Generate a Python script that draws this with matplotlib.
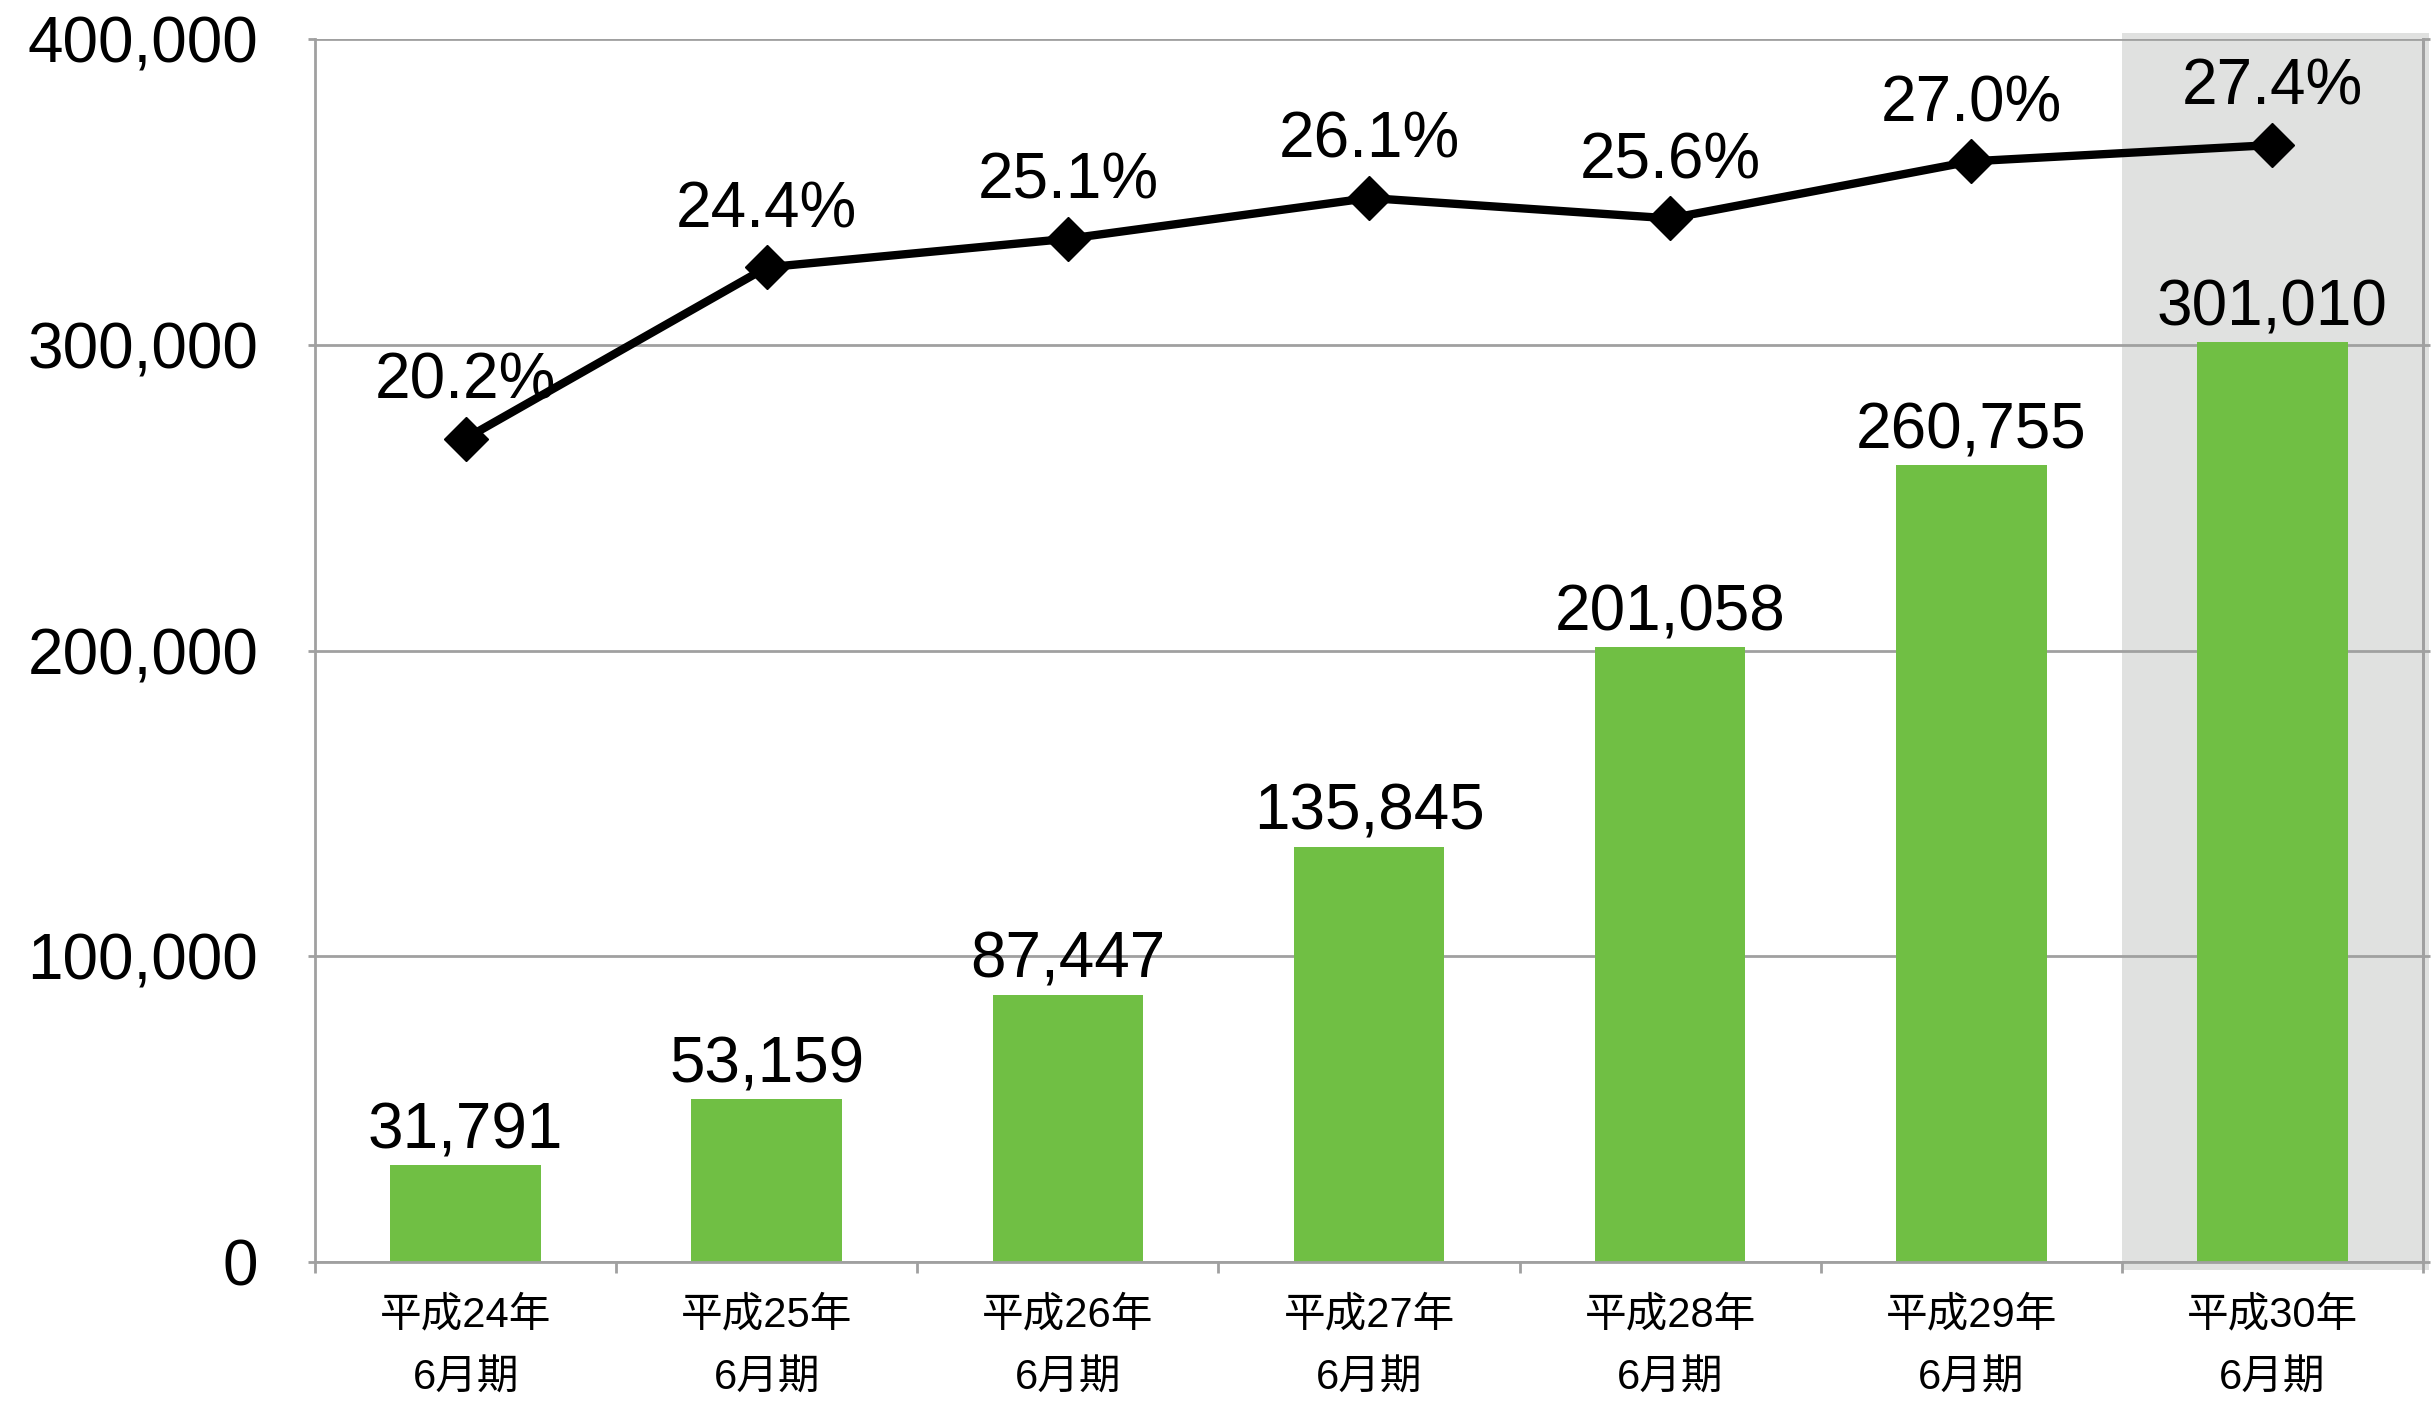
import matplotlib.pyplot as plt
from matplotlib.patches import Rectangle
from matplotlib.ticker import FuncFormatter

# data
periods = ['平成24年\n6月期', '平成25年\n6月期', '平成26年\n6月期', '平成27年\n6月期',
           '平成28年\n6月期', '平成29年\n6月期', '平成30年\n6月期']
sales = [31791, 53159, 87447, 135845, 201058, 260755, 301010]
ratio = [20.2, 24.4, 25.1, 26.1, 25.6, 27.0, 27.4]

plt.rcParams['font.family'] = ['Liberation Sans', 'Noto Sans CJK JP', 'DejaVu Sans']

grey = '#A0A0A0'
green = '#70BF44'

fig = plt.figure(figsize=(24.33, 14.14), dpi=100)
ax = fig.add_axes([0.1295, 0.1075, 0.8664, 0.8649])

x = list(range(len(sales)))
ax.bar(x, sales, width=0.5, color=green, zorder=2)
ax.set_xlim(-0.5, 6.5)
ax.set_ylim(0, 400000)

# highlight for the latest period
ax.add_patch(Rectangle((5.5, -2500), 1.02, 404500, facecolor='#E0E1E0',
                       edgecolor='none', zorder=0.2, clip_on=False))

ax.set_axisbelow(True)
ax.yaxis.grid(True, color=grey, linewidth=2)
ax.spines['top'].set_visible(False)
for s in ['left', 'bottom', 'right']:
    ax.spines[s].set_color(grey)
    ax.spines[s].set_linewidth(2)

ax.set_yticks([0, 100000, 200000, 300000, 400000])
ax.yaxis.set_major_formatter(FuncFormatter(lambda v, p: f'{int(v):,}'))
ax.tick_params(axis='y', labelsize=46, color=grey, width=2, length=5, pad=36)

ax.set_xticks(x)
ax.set_xticklabels(periods, fontsize=30, linespacing=1.75)
ax.set_xticks([i - 0.5 for i in range(len(sales) + 1)], minor=True)
ax.tick_params(axis='x', which='major', length=0, pad=24)
ax.tick_params(axis='x', which='minor', length=8, width=2, color=grey)

for i, v in zip(x, sales):
    ax.annotate(f'{v:,}', (i, v), xytext=(0, 12), textcoords='offset points',
                ha='center', va='baseline', fontsize=46)

ax2 = ax.twinx()
ax2.set_ylim(0, 30)
ax2.patch.set_visible(False)
for s in ['left', 'top', 'bottom']:
    ax2.spines[s].set_visible(False)
ax2.spines['right'].set_color(grey)
ax2.spines['right'].set_linewidth(2)
ax2.set_yticks([0, 7.5, 15, 22.5, 30])
ax2.set_yticklabels([])
ax2.tick_params(axis='y', color=grey, width=2, length=5)

ax2.plot(x, ratio, color='black', linewidth=6, marker='D', markersize=22, zorder=5)
for i, r in zip(x, ratio):
    ax2.annotate(f'{r:.1f}%', (i, r), xytext=(0, 29), textcoords='offset points',
                 ha='center', va='baseline', fontsize=46, zorder=4)

fig.savefig('out.png', dpi=100)
